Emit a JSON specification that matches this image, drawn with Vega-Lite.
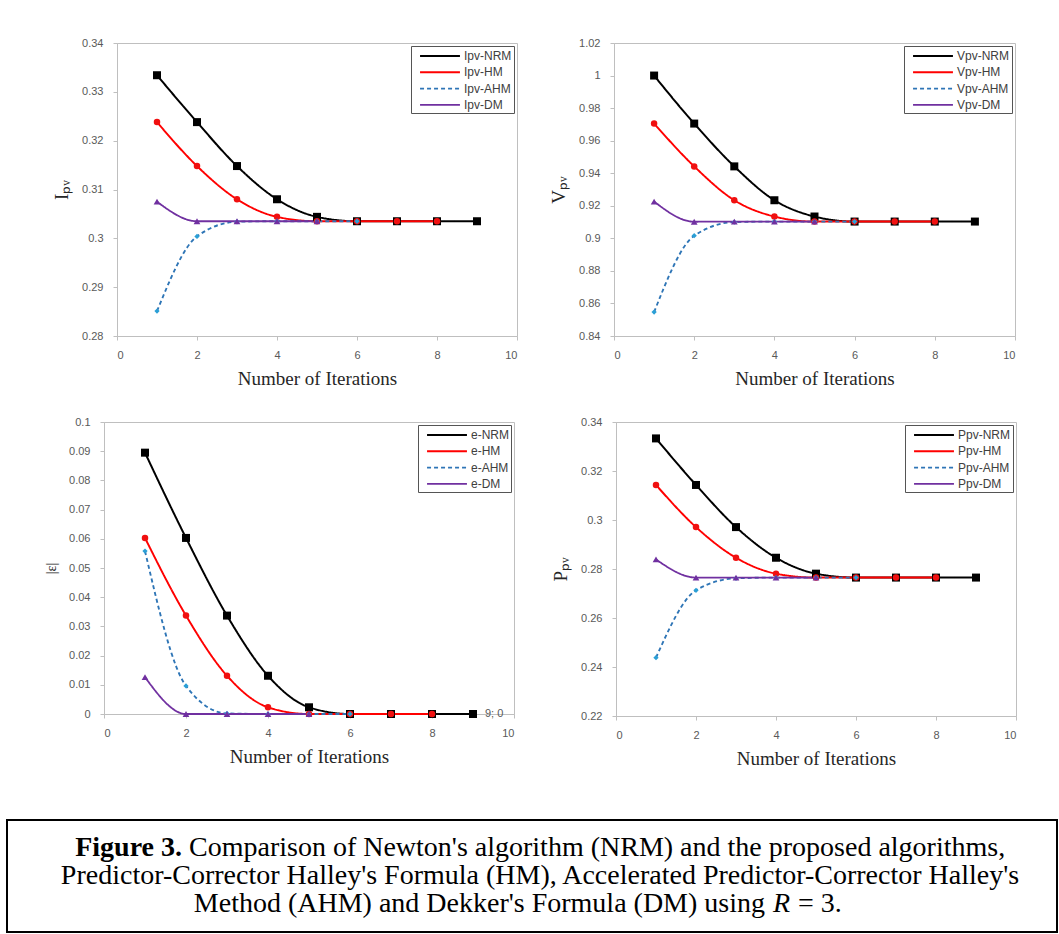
{
  "$schema": "https://vega.github.io/schema/vega-lite/v6.json",
  "padding": {"top": 36, "left": 6, "right": 2, "bottom": 0},
  "background": "white",
  "datasets": {
    "ipv": [
      {"method": "NRM", "iter": 1, "value": 0.3334}, {"method": "NRM", "iter": 2, "value": 0.3238}, {"method": "NRM", "iter": 3, "value": 0.3148}, {"method": "NRM", "iter": 4, "value": 0.308}, {"method": "NRM", "iter": 5, "value": 0.3044}, {"method": "NRM", "iter": 6, "value": 0.3035}, {"method": "NRM", "iter": 7, "value": 0.3035}, {"method": "NRM", "iter": 8, "value": 0.3035}, {"method": "NRM", "iter": 9, "value": 0.3035},
      {"method": "HM", "iter": 1, "value": 0.3238}, {"method": "HM", "iter": 2, "value": 0.3148}, {"method": "HM", "iter": 3, "value": 0.308}, {"method": "HM", "iter": 4, "value": 0.3044}, {"method": "HM", "iter": 5, "value": 0.3035}, {"method": "HM", "iter": 6, "value": 0.3035}, {"method": "HM", "iter": 7, "value": 0.3035}, {"method": "HM", "iter": 8, "value": 0.3035},
      {"method": "AHM", "iter": 1, "value": 0.2851}, {"method": "AHM", "iter": 2, "value": 0.3004}, {"method": "AHM", "iter": 3, "value": 0.3034}, {"method": "AHM", "iter": 4, "value": 0.3035}, {"method": "AHM", "iter": 5, "value": 0.3035}, {"method": "AHM", "iter": 6, "value": 0.3035},
      {"method": "DM", "iter": 1, "value": 0.3075}, {"method": "DM", "iter": 2, "value": 0.3035}, {"method": "DM", "iter": 3, "value": 0.3035}, {"method": "DM", "iter": 4, "value": 0.3035}, {"method": "DM", "iter": 5, "value": 0.3035}
    ],
    "vpv": [
      {"method": "NRM", "iter": 1, "value": 1.0}, {"method": "NRM", "iter": 2, "value": 0.9705}, {"method": "NRM", "iter": 3, "value": 0.9442}, {"method": "NRM", "iter": 4, "value": 0.9234}, {"method": "NRM", "iter": 5, "value": 0.9134}, {"method": "NRM", "iter": 6, "value": 0.9103}, {"method": "NRM", "iter": 7, "value": 0.9103}, {"method": "NRM", "iter": 8, "value": 0.9103}, {"method": "NRM", "iter": 9, "value": 0.9103},
      {"method": "HM", "iter": 1, "value": 0.9705}, {"method": "HM", "iter": 2, "value": 0.9442}, {"method": "HM", "iter": 3, "value": 0.9234}, {"method": "HM", "iter": 4, "value": 0.9134}, {"method": "HM", "iter": 5, "value": 0.9103}, {"method": "HM", "iter": 6, "value": 0.9103}, {"method": "HM", "iter": 7, "value": 0.9103}, {"method": "HM", "iter": 8, "value": 0.9103},
      {"method": "AHM", "iter": 1, "value": 0.8547}, {"method": "AHM", "iter": 2, "value": 0.9016}, {"method": "AHM", "iter": 3, "value": 0.91}, {"method": "AHM", "iter": 4, "value": 0.9103}, {"method": "AHM", "iter": 5, "value": 0.9103}, {"method": "AHM", "iter": 6, "value": 0.9103},
      {"method": "DM", "iter": 1, "value": 0.9226}, {"method": "DM", "iter": 2, "value": 0.9102}, {"method": "DM", "iter": 3, "value": 0.9103}, {"method": "DM", "iter": 4, "value": 0.9103}, {"method": "DM", "iter": 5, "value": 0.9103}
    ],
    "err": [
      {"method": "NRM", "iter": 1, "value": 0.0895}, {"method": "NRM", "iter": 2, "value": 0.0603}, {"method": "NRM", "iter": 3, "value": 0.0337}, {"method": "NRM", "iter": 4, "value": 0.0131}, {"method": "NRM", "iter": 5, "value": 0.0023}, {"method": "NRM", "iter": 6, "value": 0}, {"method": "NRM", "iter": 7, "value": 0}, {"method": "NRM", "iter": 8, "value": 0}, {"method": "NRM", "iter": 9, "value": 0},
      {"method": "HM", "iter": 1, "value": 0.0603}, {"method": "HM", "iter": 2, "value": 0.0337}, {"method": "HM", "iter": 3, "value": 0.0131}, {"method": "HM", "iter": 4, "value": 0.0023}, {"method": "HM", "iter": 5, "value": 0}, {"method": "HM", "iter": 6, "value": 0}, {"method": "HM", "iter": 7, "value": 0}, {"method": "HM", "iter": 8, "value": 0},
      {"method": "AHM", "iter": 1, "value": 0.0558}, {"method": "AHM", "iter": 2, "value": 0.0096}, {"method": "AHM", "iter": 3, "value": 0.0002}, {"method": "AHM", "iter": 4, "value": 0}, {"method": "AHM", "iter": 5, "value": 0}, {"method": "AHM", "iter": 6, "value": 0},
      {"method": "DM", "iter": 1, "value": 0.0126}, {"method": "DM", "iter": 2, "value": 0}, {"method": "DM", "iter": 3, "value": 0}, {"method": "DM", "iter": 4, "value": 0}, {"method": "DM", "iter": 5, "value": 0}
    ],
    "ppv": [
      {"method": "NRM", "iter": 1, "value": 0.3333}, {"method": "NRM", "iter": 2, "value": 0.3143}, {"method": "NRM", "iter": 3, "value": 0.2971}, {"method": "NRM", "iter": 4, "value": 0.2846}, {"method": "NRM", "iter": 5, "value": 0.2781}, {"method": "NRM", "iter": 6, "value": 0.2765}, {"method": "NRM", "iter": 7, "value": 0.2765}, {"method": "NRM", "iter": 8, "value": 0.2765}, {"method": "NRM", "iter": 9, "value": 0.2765},
      {"method": "HM", "iter": 1, "value": 0.3143}, {"method": "HM", "iter": 2, "value": 0.2971}, {"method": "HM", "iter": 3, "value": 0.2846}, {"method": "HM", "iter": 4, "value": 0.2781}, {"method": "HM", "iter": 5, "value": 0.2765}, {"method": "HM", "iter": 6, "value": 0.2765}, {"method": "HM", "iter": 7, "value": 0.2765}, {"method": "HM", "iter": 8, "value": 0.2765},
      {"method": "AHM", "iter": 1, "value": 0.2438}, {"method": "AHM", "iter": 2, "value": 0.2713}, {"method": "AHM", "iter": 3, "value": 0.2762}, {"method": "AHM", "iter": 4, "value": 0.2765}, {"method": "AHM", "iter": 5, "value": 0.2765}, {"method": "AHM", "iter": 6, "value": 0.2765},
      {"method": "DM", "iter": 1, "value": 0.2839}, {"method": "DM", "iter": 2, "value": 0.2765}, {"method": "DM", "iter": 3, "value": 0.2765}, {"method": "DM", "iter": 4, "value": 0.2765}, {"method": "DM", "iter": 5, "value": 0.2765}
    ]
  },
  "vconcat": [
    {
      "vconcat": [
        {
          "hconcat": [
            {"width": 14, "height": 10, "view": {"stroke": null, "fill": "white"}, "data": {"values": []}, "mark": "point"},
            {
              "width": 400, "height": 293,
              "data": {"name": "ipv"},
              "encoding": {
                "x": {"field": "iter", "type": "quantitative", "scale": {"domain": [0, 10]}, "axis": {"values": [0, 2, 4, 6, 8, 10], "title": "Number of Iterations"}},
                "y": {"field": "value", "type": "quantitative", "scale": {"domain": [0.28, 0.34], "zero": false, "nice": false}, "axis": {"values": [0.28, 0.29, 0.3, 0.31, 0.32, 0.33, 0.34], "format": ".2~f", "title": "Iₚᵥ"}}
              },
              "layer": [
                {"mark": {"type": "line", "interpolate": "monotone"},
                 "encoding": {
                   "color": {"field": "method", "type": "nominal", "scale": {"domain": ["NRM", "HM", "AHM", "DM"], "range": ["#000000", "#ff0000", "#2e75b6", "#7030a0"]}, "legend": {"title": null, "labelExpr": "'Ipv-' + datum.label"}},
                   "strokeDash": {"field": "method", "type": "nominal", "scale": {"domain": ["NRM", "HM", "AHM", "DM"], "range": [[1, 0], [1, 0], [4, 3], [1, 0]]}, "legend": {"title": null, "labelExpr": "'Ipv-' + datum.label"}},
                   "strokeWidth": {"field": "method", "type": "nominal", "scale": {"domain": ["NRM", "HM", "AHM", "DM"], "range": [2, 1.8, 1.6, 1.6]}, "legend": null}
                 }},
                {"transform": [{"filter": "datum.method === 'NRM'"}], "mark": {"type": "point", "shape": "square", "filled": true, "opacity": 1, "size": 64, "color": "#000000"}},
                {"transform": [{"filter": "datum.method === 'HM'"}], "mark": {"type": "point", "shape": "circle", "filled": true, "opacity": 1, "size": 42, "color": "#f01010"}},
                {"transform": [{"filter": "datum.method === 'AHM'"}], "mark": {"type": "point", "shape": "diamond", "filled": true, "opacity": 1, "size": 28, "color": "#2a9fd6"}},
                {"transform": [{"filter": "datum.method === 'DM'"}], "mark": {"type": "point", "shape": "triangle-up", "filled": true, "opacity": 1, "size": 45, "color": "#7030a0"}}
              ]
            },
            {
              "width": 401, "height": 293,
              "data": {"name": "vpv"},
              "encoding": {
                "x": {"field": "iter", "type": "quantitative", "scale": {"domain": [0, 10]}, "axis": {"values": [0, 2, 4, 6, 8, 10], "title": "Number of Iterations"}},
                "y": {"field": "value", "type": "quantitative", "scale": {"domain": [0.84, 1.02], "zero": false, "nice": false}, "axis": {"values": [0.84, 0.86, 0.88, 0.9, 0.92, 0.94, 0.96, 0.98, 1, 1.02], "format": ".2~f", "title": "Vₚᵥ"}}
              },
              "layer": [
                {"mark": {"type": "line", "interpolate": "monotone"},
                 "encoding": {
                   "color": {"field": "method", "type": "nominal", "scale": {"domain": ["NRM", "HM", "AHM", "DM"], "range": ["#000000", "#ff0000", "#2e75b6", "#7030a0"]}, "legend": {"title": null, "labelExpr": "'Vpv-' + datum.label"}},
                   "strokeDash": {"field": "method", "type": "nominal", "scale": {"domain": ["NRM", "HM", "AHM", "DM"], "range": [[1, 0], [1, 0], [4, 3], [1, 0]]}, "legend": {"title": null, "labelExpr": "'Vpv-' + datum.label"}},
                   "strokeWidth": {"field": "method", "type": "nominal", "scale": {"domain": ["NRM", "HM", "AHM", "DM"], "range": [2, 1.8, 1.6, 1.6]}, "legend": null}
                 }},
                {"transform": [{"filter": "datum.method === 'NRM'"}], "mark": {"type": "point", "shape": "square", "filled": true, "opacity": 1, "size": 64, "color": "#000000"}},
                {"transform": [{"filter": "datum.method === 'HM'"}], "mark": {"type": "point", "shape": "circle", "filled": true, "opacity": 1, "size": 42, "color": "#f01010"}},
                {"transform": [{"filter": "datum.method === 'AHM'"}], "mark": {"type": "point", "shape": "diamond", "filled": true, "opacity": 1, "size": 28, "color": "#2a9fd6"}},
                {"transform": [{"filter": "datum.method === 'DM'"}], "mark": {"type": "point", "shape": "triangle-up", "filled": true, "opacity": 1, "size": 45, "color": "#7030a0"}}
              ]
            }
          ],
          "spacing": 31,
          "resolve": {"scale": {"color": "independent", "strokeDash": "independent", "strokeWidth": "independent"}, "legend": {"color": "independent", "strokeDash": "independent"}}
        },
        {
          "hconcat": [
            {"width": 1, "height": 10, "view": {"stroke": null, "fill": "white"}, "data": {"values": []}, "mark": "point"},
            {
              "width": 410, "height": 292,
              "data": {"name": "err"},
              "encoding": {
                "x": {"field": "iter", "type": "quantitative", "scale": {"domain": [0, 10]}, "axis": {"values": [0, 2, 4, 6, 8, 10], "title": "Number of Iterations"}},
                "y": {"field": "value", "type": "quantitative", "scale": {"domain": [0, 0.1], "nice": false}, "axis": {"values": [0, 0.01, 0.02, 0.03, 0.04, 0.05, 0.06, 0.07, 0.08, 0.09, 0.1], "format": ".2~f", "title": "|ε|", "titleFontSize": 14}}
              },
              "layer": [
                {"mark": {"type": "line", "interpolate": "monotone"},
                 "encoding": {
                   "color": {"field": "method", "type": "nominal", "scale": {"domain": ["NRM", "HM", "AHM", "DM"], "range": ["#000000", "#ff0000", "#2e75b6", "#7030a0"]}, "legend": {"title": null, "labelExpr": "'e-' + datum.label"}},
                   "strokeDash": {"field": "method", "type": "nominal", "scale": {"domain": ["NRM", "HM", "AHM", "DM"], "range": [[1, 0], [1, 0], [4, 3], [1, 0]]}, "legend": {"title": null, "labelExpr": "'e-' + datum.label"}},
                   "strokeWidth": {"field": "method", "type": "nominal", "scale": {"domain": ["NRM", "HM", "AHM", "DM"], "range": [2, 1.8, 1.6, 1.6]}, "legend": null}
                 }},
                {"transform": [{"filter": "datum.method === 'NRM'"}], "mark": {"type": "point", "shape": "square", "filled": true, "opacity": 1, "size": 64, "color": "#000000"}},
                {"transform": [{"filter": "datum.method === 'HM'"}], "mark": {"type": "point", "shape": "circle", "filled": true, "opacity": 1, "size": 42, "color": "#f01010"}},
                {"transform": [{"filter": "datum.method === 'AHM'"}], "mark": {"type": "point", "shape": "diamond", "filled": true, "opacity": 1, "size": 28, "color": "#2a9fd6"}},
                {"transform": [{"filter": "datum.method === 'DM'"}], "mark": {"type": "point", "shape": "triangle-up", "filled": true, "opacity": 1, "size": 45, "color": "#7030a0"}},
                {"transform": [{"filter": "datum.method === 'NRM' && datum.iter === 9"}],
                 "mark": {"type": "text", "align": "left", "baseline": "middle", "dx": 12, "font": "Liberation Sans", "fontSize": 11, "color": "#595959"},
                 "encoding": {"text": {"value": "9; 0"}}}
              ]
            },
            {
              "width": 400, "height": 294,
              "data": {"name": "ppv"},
              "encoding": {
                "x": {"field": "iter", "type": "quantitative", "scale": {"domain": [0, 10]}, "axis": {"values": [0, 2, 4, 6, 8, 10], "title": "Number of Iterations"}},
                "y": {"field": "value", "type": "quantitative", "scale": {"domain": [0.22, 0.34], "zero": false, "nice": false}, "axis": {"values": [0.22, 0.24, 0.26, 0.28, 0.3, 0.32, 0.34], "format": ".2~f", "title": "Pₚᵥ"}}
              },
              "layer": [
                {"mark": {"type": "line", "interpolate": "monotone"},
                 "encoding": {
                   "color": {"field": "method", "type": "nominal", "scale": {"domain": ["NRM", "HM", "AHM", "DM"], "range": ["#000000", "#ff0000", "#2e75b6", "#7030a0"]}, "legend": {"title": null, "labelExpr": "'Ppv-' + datum.label"}},
                   "strokeDash": {"field": "method", "type": "nominal", "scale": {"domain": ["NRM", "HM", "AHM", "DM"], "range": [[1, 0], [1, 0], [4, 3], [1, 0]]}, "legend": {"title": null, "labelExpr": "'Ppv-' + datum.label"}},
                   "strokeWidth": {"field": "method", "type": "nominal", "scale": {"domain": ["NRM", "HM", "AHM", "DM"], "range": [2, 1.8, 1.6, 1.6]}, "legend": null}
                 }},
                {"transform": [{"filter": "datum.method === 'NRM'"}], "mark": {"type": "point", "shape": "square", "filled": true, "opacity": 1, "size": 64, "color": "#000000"}},
                {"transform": [{"filter": "datum.method === 'HM'"}], "mark": {"type": "point", "shape": "circle", "filled": true, "opacity": 1, "size": 42, "color": "#f01010"}},
                {"transform": [{"filter": "datum.method === 'AHM'"}], "mark": {"type": "point", "shape": "diamond", "filled": true, "opacity": 1, "size": 28, "color": "#2a9fd6"}},
                {"transform": [{"filter": "datum.method === 'DM'"}], "mark": {"type": "point", "shape": "triangle-up", "filled": true, "opacity": 1, "size": 45, "color": "#7030a0"}}
              ]
            }
          ],
          "spacing": 36,
          "resolve": {"scale": {"color": "independent", "strokeDash": "independent", "strokeWidth": "independent"}, "legend": {"color": "independent", "strokeDash": "independent"}}
        }
      ],
      "spacing": 26,
      "resolve": {"scale": {"color": "independent", "strokeDash": "independent", "strokeWidth": "independent"}, "legend": {"color": "independent", "strokeDash": "independent"}}
    },
    {
      "width": 1050, "height": 112,
      "view": {"stroke": "#000000", "strokeWidth": 2},
      "layer": [
        {"data": {"values": [{"line": 1, "text": "Figure 3."}]},
         "mark": {"type": "text", "font": "Liberation Serif", "fontSize": 28, "fontWeight": "bold", "align": "right", "baseline": "middle", "dx": -350, "color": "#000000"},
         "encoding": {"y": {"field": "line", "type": "ordinal", "axis": null, "scale": {"type": "point", "domain": [1, 2, 3], "padding": 1.3}}, "text": {"field": "text"}}},
        {"data": {"values": [{"line": 1, "text": "Comparison of Newton's algorithm (NRM) and the proposed algorithms,"}]},
         "mark": {"type": "text", "font": "Liberation Serif", "fontSize": 28, "align": "left", "baseline": "middle", "dx": -343, "color": "#000000"},
         "encoding": {"y": {"field": "line", "type": "ordinal", "axis": null}, "text": {"field": "text"}}},
        {"data": {"values": [{"line": 2, "text": "Predictor-Corrector Halley's Formula (HM), Accelerated Predictor-Corrector Halley's"}]},
         "mark": {"type": "text", "font": "Liberation Serif", "fontSize": 28, "align": "center", "baseline": "middle", "dx": 8, "color": "#000000"},
         "encoding": {"y": {"field": "line", "type": "ordinal", "axis": null}, "text": {"field": "text"}}},
        {"data": {"values": [{"line": 3, "text": "Method (AHM) and Dekker's Formula (DM) using"}]},
         "mark": {"type": "text", "font": "Liberation Serif", "fontSize": 28, "align": "right", "baseline": "middle", "dx": 233, "color": "#000000"},
         "encoding": {"y": {"field": "line", "type": "ordinal", "axis": null}, "text": {"field": "text"}}},
        {"data": {"values": [{"line": 3, "text": "R"}]},
         "mark": {"type": "text", "font": "Liberation Serif", "fontSize": 28, "fontStyle": "italic", "align": "left", "baseline": "middle", "dx": 241, "color": "#000000"},
         "encoding": {"y": {"field": "line", "type": "ordinal", "axis": null}, "text": {"field": "text"}}},
        {"data": {"values": [{"line": 3, "text": "= 3."}]},
         "mark": {"type": "text", "font": "Liberation Serif", "fontSize": 28, "align": "left", "baseline": "middle", "dx": 266, "color": "#000000"},
         "encoding": {"y": {"field": "line", "type": "ordinal", "axis": null}, "text": {"field": "text"}}}
      ]
    }
  ],
  "spacing": 50,
  "resolve": {"scale": {"color": "independent", "strokeDash": "independent", "strokeWidth": "independent"}, "legend": {"color": "independent", "strokeDash": "independent"}},
  "config": {
    "font": "Liberation Sans",
    "view": {"stroke": "#bfbfbf", "strokeWidth": 1},
    "axis": {"grid": false, "labelOverlap": false, "domainColor": "#bfbfbf", "tickColor": "#bfbfbf", "tickSize": 4, "labelFont": "Liberation Sans", "labelFontSize": 11, "labelColor": "#595959", "titleFont": "Liberation Serif", "titleFontWeight": "normal", "titleColor": "#262626"},
    "axisX": {"labelPadding": 9, "titleFontSize": 19, "titlePadding": 9},
    "axisY": {"labelPadding": 10, "titleFontSize": 19, "titlePadding": 10},
    "legend": {"orient": "top-right", "offset": 3, "symbolType": "M-2.85,0H2.85", "symbolSize": 196, "symbolStrokeWidth": 2, "symbolOffset": 19, "labelFont": "Liberation Sans", "labelFontSize": 12, "labelColor": "#404040", "labelOffset": 16, "rowPadding": 2.3, "padding": 2, "strokeColor": "#555555", "fillColor": "#ffffff"}
  }
}
